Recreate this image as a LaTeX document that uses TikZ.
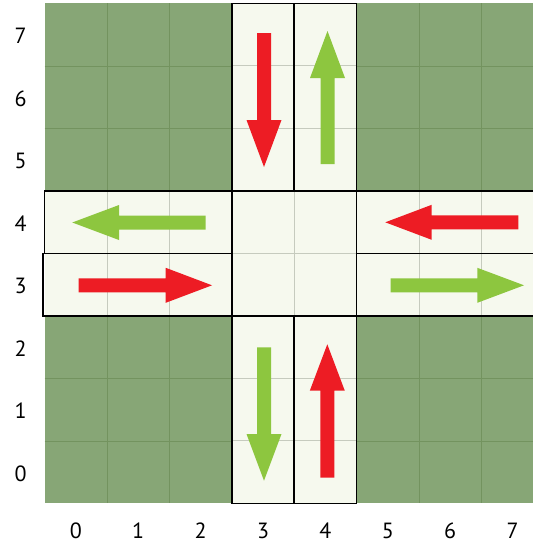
\documentclass[tikz,border=0pt]{standalone}
\usepackage{fontspec}
\setmainfont{PT Sans}
\definecolor{field}{HTML}{87A676}
\definecolor{fieldgrid}{HTML}{73935F}
\definecolor{road}{HTML}{F6F9EE}
\definecolor{roadgrid}{HTML}{C6CBBE}
\definecolor{redarrow}{HTML}{ED1C24}
\definecolor{greenarrow}{HTML}{8DC63F}
\newcommand{\hblock}[5]{\fill[#1] (#3,#2-7) -- (#4,#2-7) -- (#4,#2-17.5) -- (#5,#2) -- (#4,#2+17.5) -- (#4,#2+7) -- (#3,#2+7) -- cycle;}
\newcommand{\vblock}[5]{\fill[#1] (#2-7,#3) -- (#2-7,#4) -- (#2-17.5,#4) -- (#2,#5) -- (#2+17.5,#4) -- (#2+7,#4) -- (#2+7,#3) -- cycle;}
\tikzset{
  lane/.style={draw=black, line width=1.5pt},
  axislabel/.style={font=\fontsize{22}{24}\selectfont, inner sep=0pt, anchor=center},
}
\begin{document}
\begin{tikzpicture}[x=1pt,y=-1pt]
\useasboundingbox (0,0) rectangle (533,544);
\begin{scope}
\clip (0,0) rectangle (533,544);
% field
\fill[field] (44.6,3.3) rectangle (543.8,503.3);
\foreach \k in {1,...,7} {
  \draw[fieldgrid, line width=0.6pt] ({44.6+62.4*\k},3.3) -- ({44.6+62.4*\k},503.3);
  \draw[fieldgrid, line width=0.6pt] (44.6,{3.3+62.5*\k}) -- (543.8,{3.3+62.5*\k});
}
% roads
\fill[road] (231.8,3.3) rectangle (356.6,503.3);
\fill[road] (44.6,190.8) rectangle (543.8,315.8);
\begin{scope}
\clip (231.8,3.3) rectangle (356.6,503.3) (44.6,190.8) rectangle (543.8,315.8);
\foreach \k in {1,...,7} {
  \draw[roadgrid, line width=0.8pt] ({44.6+62.4*\k},3.3) -- ({44.6+62.4*\k},503.3);
  \draw[roadgrid, line width=0.8pt] (44.6,{3.3+62.5*\k}) -- (543.8,{3.3+62.5*\k});
}
\end{scope}
% lane boxes
\draw[lane] (231.8,3.3) rectangle (294.2,190.8);
\draw[lane] (294.2,3.3) rectangle (356.6,190.8);
\draw[lane] (44.6,190.8) rectangle (231.8,253.3);
\draw[lane] (43,253.3) rectangle (231.8,315.8);
\draw[lane] (356.6,190.8) rectangle (543.8,253.3);
\draw[lane] (356.6,253.3) rectangle (543.8,315.8);
\draw[lane] (231.8,315.8) rectangle (294.2,503.3);
\draw[lane] (294.2,315.8) rectangle (356.6,503.3);
% arrows
\vblock{redarrow}{264}{33}{120}{167}
\vblock{greenarrow}{327.5}{164}{78}{31}
\hblock{greenarrow}{222.5}{205.7}{119}{72.3}
\hblock{redarrow}{285.3}{78.7}{165.7}{212}
\hblock{redarrow}{222.3}{518.3}{431.7}{385.3}
\hblock{greenarrow}{285.3}{390.7}{477.3}{524}
\vblock{greenarrow}{264}{347.3}{434}{480.7}
\vblock{redarrow}{327.3}{477.7}{390.7}{344.3}
\end{scope}
% axis labels
\foreach \i in {0,...,7} {
  \node[axislabel] (x\i) at ({44.6+62.4*(\i+0.5)},531) {\i};
  \node[axislabel] (y\i) at (20.5,{3.3+62.5*(7.5-\i)+1.5}) {\i};
}
\end{tikzpicture}
\end{document}
